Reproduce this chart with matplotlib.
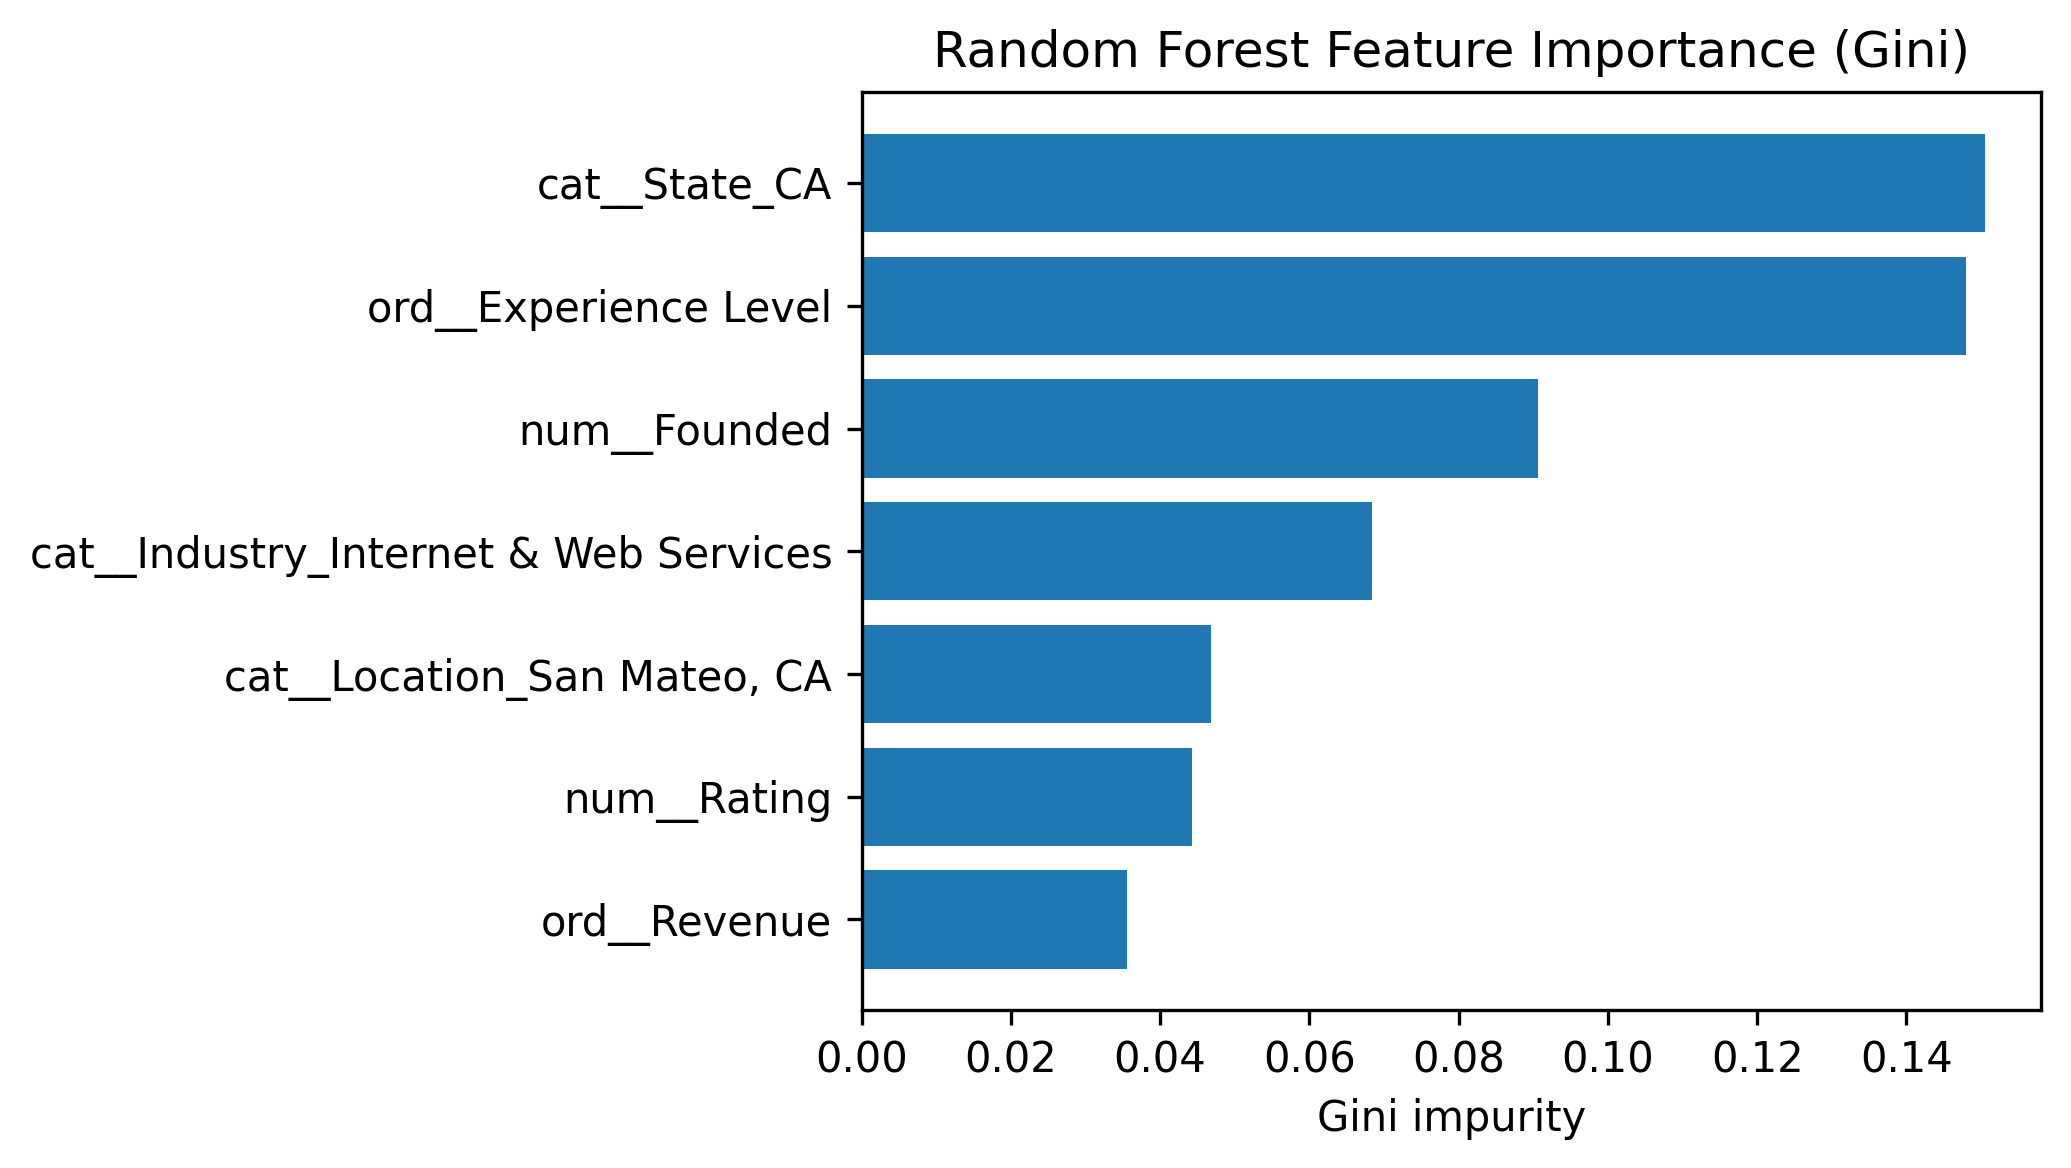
import matplotlib
matplotlib.use("Agg")
import matplotlib.pyplot as plt

features = [
    "cat__State_CA",
    "ord__Experience Level",
    "num__Founded",
    "cat__Industry_Internet & Web Services",
    "cat__Location_San Mateo, CA",
    "num__Rating",
    "ord__Revenue",
]
importances = [0.1505, 0.1480, 0.0907, 0.0684, 0.0468, 0.0443, 0.0356]

fig = plt.figure(figsize=(2071/300, 1168/300), dpi=300)
ax = fig.add_axes([0.416, 0.135, 0.9855-0.416, 0.921-0.135])
ax.barh(features[::-1], importances[::-1], color="#1f77b4")
ax.set_xlabel("Gini impurity")
ax.set_title("Random Forest Feature Importance (Gini)")
fig.savefig("out.png", dpi=300)
